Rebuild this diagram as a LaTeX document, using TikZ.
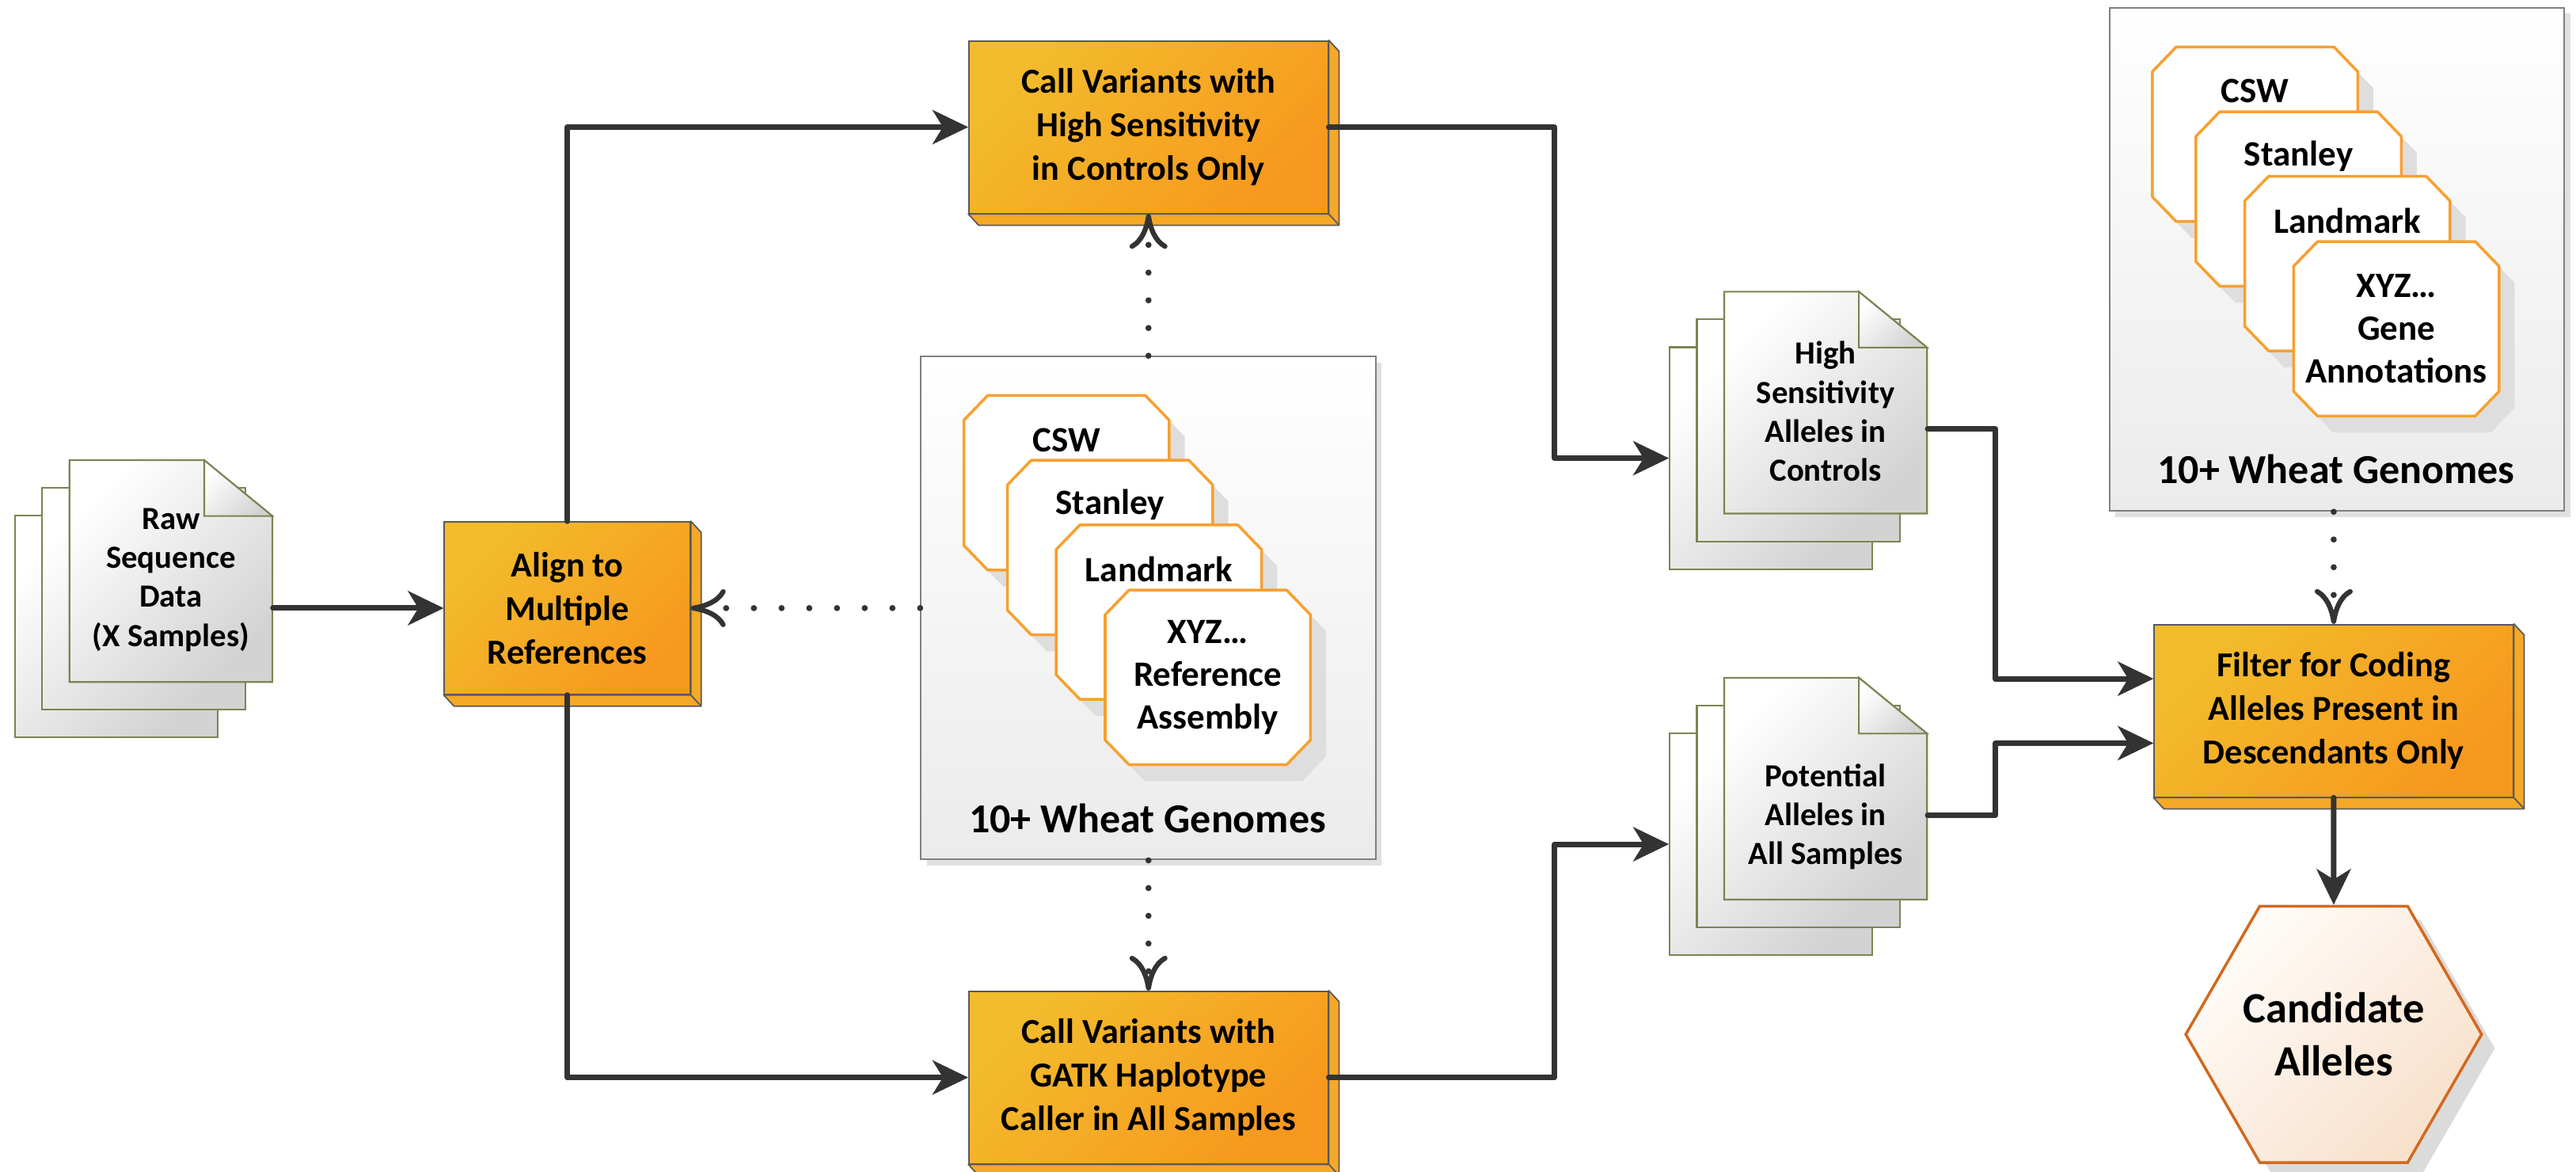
\documentclass[tikz,border=0pt]{standalone}
\usepackage{fontspec}
\setmainfont{Carlito}
\usetikzlibrary{arrows.meta,calc,shapes.geometric,shadows}

\definecolor{lc}{HTML}{333333}
\definecolor{oy}{HTML}{F2BC2C}
\definecolor{oo}{HTML}{F7981E}
\definecolor{oside}{HTML}{F6A827}
\definecolor{bedge}{HTML}{595959}
\definecolor{docedge}{HTML}{7C8452}
\definecolor{docgray}{HTML}{D3D3D3}
\definecolor{octedge}{HTML}{F7A030}
\definecolor{paneledge}{HTML}{808080}
\definecolor{panelgray}{HTML}{EBEBEB}
\definecolor{hexedge}{HTML}{D2691E}
\definecolor{hexlight}{HTML}{FFFCF9}
\definecolor{hexdark}{HTML}{F8E0CA}

\tikzset{
  procbox/.style={draw=bedge, line width=0.5pt, top color=oy, bottom color=oo,
    shading angle=45, minimum height=21.77mm, inner sep=0pt, align=center,
    font=\bfseries\fontsize{12.6}{15.6}\selectfont},
  boxface/.style={fill=oside, draw=bedge, line width=0.5pt, line join=round},
  docpage/.style={draw=docedge, line width=0.6pt, top color=white,
    bottom color=docgray, shading angle=45},
  docanchor/.style={minimum width=25.63mm, minimum height=28.01mm, inner sep=0pt},
  doctext/.style={align=center, font=\bfseries\fontsize{11.6}{14}\selectfont},
  panel/.style={draw=paneledge, line width=0.6pt, top color=white,
    bottom color=panelgray, minimum width=57.46mm, minimum height=63.5mm,
    inner sep=0pt,
    drop shadow={shadow xshift=0.73mm, shadow yshift=-0.73mm, fill=black!12, opacity=1}},
  octa/.style={draw=octedge, line width=1pt, fill=white, line join=round,
    drop shadow={shadow xshift=1.97mm, shadow yshift=-2.08mm, fill=black!13, opacity=1}},
  octtext/.style={align=center, font=\bfseries\fontsize{12.8}{15.3}\selectfont},
  gtitle/.style={font=\bfseries\fontsize{14.8}{17}\selectfont},
  hexa/.style={regular polygon, regular polygon sides=6, minimum size=34.53mm,
    inner sep=0pt, draw=hexedge, line width=1pt, top color=hexlight,
    bottom color=hexdark, shading angle=45, align=center,
    font=\bfseries\fontsize{15.5}{19}\selectfont,
    drop shadow={shadow xshift=1.66mm, shadow yshift=-1.76mm, fill=black!14, opacity=1}},
  conn/.style={draw=lc, line width=2pt, line cap=round, line join=round,
    -{Stealth[length=4.5mm, width=4.3mm, inset=1.3mm]}},
  dotconn/.style={draw=lc, line width=2.2pt, line cap=round,
    dash pattern=on 0pt off 3.5mm,
    -{Computer Modern Rightarrow[length=4.4mm, width=4.8mm, line width=1.8pt]}},
}

% process box with an extruded side and bottom face
\newcommand\procnode[5]{%
  \node[procbox, minimum width=#4] (#1) at (#2,#3) {#5};
  \path[boxface] (#1.north east) -- ([shift={(6.3,6.8)}]#1.north east)
    -- ([shift={(6.3,6.8)}]#1.south east) -- ([shift={(6.3,6.8)}]#1.south west)
    -- (#1.south west) -- (#1.south east) -- cycle;
  \draw[bedge, line width=0.5pt] (#1.south east) -- ([shift={(6.3,6.8)}]#1.south east);
}

% stack of three pages; #2,#3 = top-left corner of the front page
\newcommand\docstack[3]{%
  \begin{scope}[shift={(#2,#3)}]
    \path[docpage] (-33.3,33.8) rectangle ++(123.5,135);
    \path[docpage] (-16.6,16.9) rectangle ++(123.5,135);
    \path[docpage] (0,0) -- (82,0) -- (123.5,34) -- (123.5,135) -- (0,135) -- cycle;
    \path[docpage] (82,0) -- (123.5,34) -- (82,34) -- cycle;
    \node[docanchor] (#1) at (61.75,67.5) {};
    \node[docanchor] (#1-back) at (28.45,101.3) {};
  \end{scope}}

% chamfered card; #1,#2 = top-left corner
\newcommand\octcard[2]{%
  \draw[octa] (#1+14.5,#2) -- (#1+110.5,#2) -- (#1+125,#2+15) -- (#1+125,#2+91.2)
    -- (#1+110.5,#2+106.2) -- (#1+14.5,#2+106.2) -- (#1,#2+91.2) -- (#1,#2+15) -- cycle;}

% genome panel contents; #1 = panel node, #2 = text of the last card
\newcommand\genomes[2]{%
  \begin{scope}[shift={(#1.north west)}]
    \octcard{26.6}{24.2}
    \node[octtext] (#1-csw) at (89.1,51.2) {CSW};
    \octcard{53.1}{63.6}
    \node[octtext] (#1-stanley) at (115.6,90.6) {Stanley};
    \octcard{82.8}{102.9}
    \node[octtext] (#1-landmark) at (145.3,129.9) {Landmark};
    \octcard{112.6}{142.6}
    \node[octtext] (#1-xyz) at (175.1,195.7) {XYZ…\\#2};
    \node[gtitle] (#1-title) at (138.45,281.3) {10+ Wheat Genomes};
  \end{scope}}

\begin{document}
\begin{tikzpicture}[x=0.2075mm, y=-0.2075mm]
\useasboundingbox (0,0) rectangle (1568,713);

% genome panels
\node[panel] (cpanel) at (699.05,370) {};
\node[panel] (rpanel) at (1422.5,157.9) {};
\genomes{cpanel}{Reference\\Assembly}
\genomes{rpanel}{Gene\\Annotations}

% data files
\docstack{raw}{42.3}{280}
\node[doctext] (rawtxt) at (104.05,352.85) {Raw\\Sequence\\Data\\(X Samples)};
\docstack{hs}{1049.5}{177.5}
\node[doctext] (hstxt) at (1111.25,250.35) {High\\Sensitivity\\Alleles in\\Controls};
\docstack{pa}{1049.5}{412.4}
\node[doctext] (patxt) at (1111.25,497.1) {Potential\\Alleles in\\All Samples};

% processing steps
\procnode{align}{345.3}{370.05}{31.04mm}{Align to\\Multiple\\References}
\procnode{callhs}{699.1}{77.35}{45.36mm}{Call Variants with\\High Sensitivity\\in Controls Only}
\procnode{callgatk}{699.1}{655.65}{45.36mm}{Call Variants with\\GATK Haplotype\\Caller in All Samples}
\procnode{filter}{1420.5}{432.5}{45.34mm}{Filter for Coding\\Alleles Present in\\Descendants Only}

% result
\node[hexa] (cand) at (1420.5,629.4) {Candidate\\Alleles};

% data flow
\draw[conn] (raw.east |- align.west) -- (align.west);
\draw[conn] (align.north) |- (callhs.west);
\draw[conn] (align.south) |- (callgatk.west);
\draw[conn] (callhs.east) -- ++(137.4,0) |- (hs-back.west);
\draw[conn] (callgatk.east) -- ++(137.4,0) |- (pa-back.west);
\draw[conn] ($(hs.east)+(0,16)$) -- ++(41.2,0) |- ($(filter.west)+(0,-19.5)$);
\draw[conn] ($(pa.east)+(0,16.2)$) -- ++(41.2,0) |- ($(filter.west)+(0,19.7)$);
\draw[conn] (filter.south) -- (cand.north);

% reference inputs
\draw[dotconn] (cpanel.north) -- (callhs.south);
\draw[dotconn] (cpanel.south) -- (callgatk.north);
\draw[dotconn] (cpanel.west) -- (align.east);
\draw[dotconn] (filter.north |- rpanel.south) -- (filter.north);
\end{tikzpicture}
\end{document}
